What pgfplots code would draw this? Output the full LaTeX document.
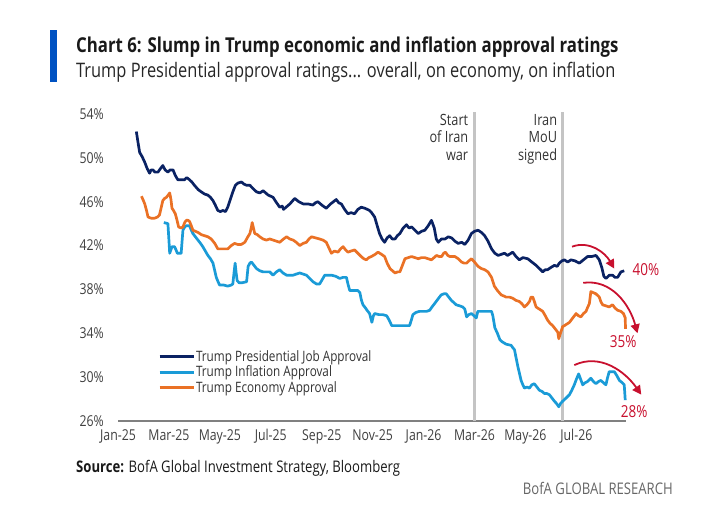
\documentclass[border=0pt]{standalone}
\usepackage{fontspec}
\setmainfont[FakeStretch=0.82]{Open Sans}
\usepackage{pgfplots}
\pgfplotsset{compat=1.18}
\usetikzlibrary{arrows.meta}
\definecolor{navy}{HTML}{0A2263}
\definecolor{lblue}{HTML}{1A9BD7}
\definecolor{orng}{HTML}{EA7125}
\definecolor{bofared}{HTML}{C8102E}
\definecolor{bofablue}{HTML}{0052C2}
\definecolor{vgray}{HTML}{C4C4C4}
\begin{document}
\begin{tikzpicture}[x=1pt,y=1pt]
\useasboundingbox (0,0) rectangle (701,508);
\fill[bofablue] (50,426) rectangle (57,478);
\node[anchor=base west, inner sep=0, font=\fontsize{20.5}{22}\selectfont\bfseries, text=black!90] at (76,455) {Chart 6: Slump in Trump economic and inflation approval ratings};
\node[anchor=base west, inner sep=0, font=\fontsize{20}{22}\selectfont, text=black!85] at (76,430) {Trump Presidential approval ratings... overall, on economy, on inflation};
\node[anchor=base west, inner sep=0, font=\fontsize{16}{18}\selectfont, text=black!90] at (76,35) {\textbf{Source:} BofA Global Investment Strategy, Bloomberg};
\node[anchor=base east, inner sep=0, font=\fontsize{16}{18}\selectfont, text=black!60] at (673,13) {BofA GLOBAL RESEARCH};
\begin{axis}[
  at={(118pt,87pt)}, anchor=south west,
  width=508pt, height=307pt, scale only axis,
  xmin=0, xmax=19.95, ymin=26, ymax=54,
  clip=false,
  axis x line=bottom, axis y line=left,
  axis line style={-},
  y axis line style={draw=none},
  x axis line style={draw=black!50, line width=2pt},
  major tick length=0pt,
  xtick={0,2,4,6,8,10,12,14,16,18},
  xticklabels={Jan-25,Mar-25,May-25,Jul-25,Sep-25,Nov-25,Jan-26,Mar-26,May-26,Jul-26},
  ytick={26,30,34,38,42,46,50,54},
  yticklabels={26\%,30\%,34\%,38\%,42\%,46\%,50\%,54\%},
  tick label style={font=\fontsize{15}{17}\selectfont, text=black!75, inner sep=0pt},
  xticklabel style={yshift=-8pt},
  yticklabel style={xshift=-14pt},
  legend style={at={(0.079,0.233)}, anchor=north west, draw=none, fill=none,
    font=\fontsize{14.3}{16}\selectfont, text=black!80, row sep=1pt, inner sep=0pt,
    nodes={inner sep=1pt}},
  legend cell align=left,
  legend image code/.code={\draw[#1, line width=2.7pt] (0pt,0pt) -- (34pt,0pt);},
]
\addplot[vgray, line width=3pt, forget plot] coordinates {(14.0,26)(14.0,54.2)};
\addplot[vgray, line width=3pt, forget plot] coordinates {(17.46,26)(17.46,54.2)};

\addplot[navy, line width=2.7pt, line join=round] coordinates {
(0.72,52.4)(0.78,51.5)(0.85,50.5)(0.95,50.1)(1.05,49.6)(1.15,49.0)(1.24,48.6)(1.3,48.9)(1.37,48.9)(1.45,48.7)(1.57,48.7)(1.66,49.0)(1.76,49.3)(1.85,48.9)(1.96,48.7)(2.05,48.9)(2.16,48.9)(2.25,48.4)(2.35,48.0)(2.5,48.0)(2.61,48.0)(2.7,48.2)(2.81,48.0)(2.9,47.8)(3.0,47.5)(3.15,47.1)(3.27,46.9)(3.4,46.7)(3.53,46.6)(3.63,46.4)(3.73,46.1)(3.82,45.7)(3.92,45.2)(4.02,45.1)(4.12,45.2)(4.22,45.1)(4.31,45.5)(4.41,46.2)(4.51,46.9)(4.61,47.5)(4.71,47.7)(4.85,47.8)(4.95,47.6)(5.05,47.5)(5.18,47.5)(5.3,47.2)(5.44,46.9)(5.57,46.8)(5.7,47.0)(5.8,46.8)(5.9,46.6)(6.0,46.5)(6.09,46.4)(6.2,46.0)(6.35,45.5)(6.45,45.6)(6.5,45.3)(6.6,45.5)(6.75,45.8)(6.94,46.3)(7.1,46.0)(7.27,45.8)(7.45,45.8)(7.66,45.7)(7.75,45.9)(7.85,46.0)(8.0,45.7)(8.18,45.4)(8.35,45.8)(8.57,46.2)(8.67,45.9)(8.77,45.8)(8.9,45.3)(9.03,44.9)(9.15,45.0)(9.29,44.9)(9.42,45.3)(9.55,45.5)(9.7,45.4)(9.88,45.2)(9.96,45.0)(10.08,44.6)(10.18,43.8)(10.27,43.1)(10.37,42.6)(10.47,42.3)(10.57,42.7)(10.67,42.9)(10.77,42.6)(10.88,42.6)(10.97,42.9)(11.07,43.1)(11.2,43.6)(11.33,43.9)(11.43,43.6)(11.53,43.7)(11.66,43.4)(11.79,43.1)(11.92,43.3)(12.05,43.4)(12.18,43.8)(12.31,44.3)(12.42,43.6)(12.5,42.6)(12.58,42.3)(12.7,42.6)(12.84,42.6)(12.97,42.8)(13.1,42.7)(13.23,42.4)(13.36,42.2)(13.5,42.3)(13.62,42.1)(13.75,42.5)(13.88,43.1)(14.0,43.3)(14.14,43.4)(14.27,43.2)(14.4,42.9)(14.53,42.4)(14.67,41.7)(14.8,41.3)(14.93,41.1)(15.05,41.2)(15.18,41.3)(15.3,41.1)(15.5,41.4)(15.63,41.0)(15.76,40.7)(15.9,40.9)(16.09,40.8)(16.25,40.5)(16.42,40.2)(16.55,39.9)(16.68,39.6)(16.78,39.8)(16.87,39.8)(17.0,40.0)(17.14,40.2)(17.25,40.1)(17.33,40.4)(17.43,40.6)(17.53,40.7)(17.66,40.5)(17.79,40.7)(17.95,40.6)(18.12,40.4)(18.28,40.7)(18.44,41.0)(18.6,41.0)(18.77,41.1)(18.9,40.7)(19.0,40.0)(19.08,39.2)(19.16,39.0)(19.3,39.3)(19.42,39.3)(19.52,39.1)(19.62,39.1)(19.75,39.6)(19.88,39.7)
};
\addlegendentry{Trump Presidential Job Approval}

\addplot[lblue, line width=2.7pt, line join=round] coordinates {
(1.8,44.1)(1.96,44.0)(2.0,42.5)(2.03,41.3)(2.12,41.9)(2.22,41.9)(2.28,41.6)(2.33,41.3)(2.48,41.3)(2.52,42.5)(2.55,43.4)(2.62,43.7)(2.68,43.8)(2.81,43.8)(2.88,43.4)(2.94,43.1)(3.04,42.8)(3.14,42.5)(3.24,42.2)(3.33,41.9)(3.43,41.5)(3.53,41.1)(3.63,40.8)(3.73,40.4)(3.8,39.7)(3.86,39.1)(3.93,38.7)(3.99,38.4)(4.15,38.4)(4.31,38.3)(4.45,38.4)(4.51,38.5)(4.56,39.6)(4.6,40.4)(4.64,39.5)(4.68,38.8)(4.76,38.6)(4.85,38.6)(5.05,38.7)(5.11,40.1)(5.18,40.4)(5.24,40.5)(5.34,40.2)(5.44,39.9)(5.57,39.7)(5.7,39.6)(5.83,39.6)(5.96,39.6)(6.09,39.3)(6.22,39.6)(6.35,39.8)(6.48,39.5)(6.62,39.3)(6.75,39.3)(6.88,39.3)(7.0,39.4)(7.14,39.5)(7.27,39.4)(7.4,39.3)(7.53,39.0)(7.66,38.7)(7.79,38.5)(7.92,38.5)(8.02,38.9)(8.12,39.3)(8.25,39.3)(8.38,39.3)(8.55,39.2)(8.71,39.0)(8.84,39.1)(8.97,39.1)(9.03,38.5)(9.1,37.9)(9.25,37.9)(9.42,37.9)(9.5,37.7)(9.55,37.1)(9.62,36.6)(9.69,36.4)(9.78,36.1)(9.88,35.8)(9.97,35.0)(10.03,35.6)(10.08,35.8)(10.25,35.7)(10.4,35.7)(10.55,35.6)(10.65,35.2)(10.75,34.7)(10.9,34.7)(11.06,34.7)(11.25,34.7)(11.45,34.7)(11.52,35.2)(11.58,35.7)(11.7,35.9)(11.84,36.0)(12.0,36.0)(12.12,36.0)(12.24,36.1)(12.33,36.4)(12.43,36.7)(12.56,37.1)(12.69,37.5)(12.8,37.6)(12.89,37.6)(12.99,37.3)(13.09,37.0)(13.19,36.8)(13.28,36.6)(13.42,36.5)(13.54,36.4)(13.62,36.2)(13.69,35.5)(13.78,35.7)(13.88,35.8)(13.98,35.6)(14.07,35.4)(14.13,36.0)(14.3,36.0)(14.5,36.0)(14.67,36.0)(14.72,35.6)(14.8,34.5)(14.9,34.0)(15.0,33.4)(15.1,33.2)(15.25,33.0)(15.44,32.9)(15.5,32.7)(15.57,32.5)(15.63,31.8)(15.7,31.0)(15.77,30.3)(15.83,29.7)(15.9,29.3)(15.96,29.0)(16.06,29.1)(16.16,29.0)(16.25,29.3)(16.35,29.4)(16.45,29.1)(16.55,28.8)(16.65,28.7)(16.75,28.5)(16.85,28.5)(16.94,28.4)(17.04,28.1)(17.14,27.8)(17.22,27.6)(17.31,27.3)(17.38,27.6)(17.46,27.8)(17.6,28.1)(17.73,28.4)(17.82,28.8)(17.92,29.3)(18.0,29.8)(18.09,30.3)(18.17,29.8)(18.25,29.3)(18.35,29.5)(18.44,29.6)(18.57,29.9)(18.67,29.6)(18.77,29.4)(18.87,29.6)(18.96,29.7)(19.06,29.5)(19.16,29.3)(19.22,29.9)(19.29,30.5)(19.4,30.5)(19.49,30.5)(19.6,30.1)(19.69,29.7)(19.8,29.5)(19.88,29.3)(19.92,27.9)
};
\addlegendentry{Trump Inflation Approval}

\addplot[orng, line width=2.7pt, line join=round] coordinates {
(0.92,46.5)(0.98,46.2)(1.05,45.8)(1.12,45.2)(1.18,44.6)(1.3,44.5)(1.44,44.5)(1.55,44.6)(1.63,44.8)(1.7,45.5)(1.76,46.1)(1.83,46.3)(1.9,46.4)(1.97,46.6)(2.03,46.8)(2.08,46.2)(2.12,45.4)(2.18,45.2)(2.25,44.9)(2.32,44.3)(2.38,43.7)(2.47,43.6)(2.55,43.7)(2.62,44.1)(2.68,44.3)(2.75,44.3)(2.81,44.2)(2.88,43.8)(2.94,43.4)(3.04,43.3)(3.14,43.2)(3.27,43.0)(3.4,42.9)(3.53,42.8)(3.66,42.6)(3.8,42.2)(3.92,41.7)(4.1,41.7)(4.31,41.7)(4.45,42.0)(4.58,42.2)(4.7,42.1)(4.84,42.1)(4.98,42.3)(5.1,42.8)(5.18,43.1)(5.24,43.7)(5.27,44.1)(5.32,43.6)(5.37,43.1)(5.47,43.0)(5.57,42.8)(5.7,42.6)(5.83,42.5)(5.96,42.6)(6.09,42.5)(6.22,42.4)(6.35,42.3)(6.5,42.6)(6.62,42.8)(6.75,42.6)(6.88,42.5)(7.0,42.3)(7.14,42.0)(7.27,42.2)(7.4,42.3)(7.5,42.6)(7.6,42.8)(7.76,42.7)(7.92,42.6)(8.05,42.5)(8.18,42.3)(8.28,41.8)(8.38,41.3)(8.5,41.5)(8.64,41.4)(8.74,41.7)(8.84,41.9)(8.94,41.6)(9.03,41.4)(9.15,41.5)(9.29,41.6)(9.42,41.3)(9.55,41.0)(9.65,40.8)(9.75,40.7)(9.85,40.9)(9.95,41.0)(10.1,41.2)(10.21,41.4)(10.35,41.2)(10.47,41.0)(10.57,40.4)(10.68,39.9)(10.78,39.7)(10.88,39.5)(10.98,39.6)(11.07,39.6)(11.17,40.2)(11.27,40.8)(11.4,40.9)(11.53,41.0)(11.66,40.9)(11.79,40.8)(11.92,40.9)(12.05,40.9)(12.18,40.8)(12.31,40.7)(12.41,40.9)(12.51,41.1)(12.61,41.0)(12.71,41.0)(12.79,41.3)(12.86,41.4)(12.95,41.1)(13.03,41.0)(13.13,41.0)(13.23,41.0)(13.36,40.8)(13.49,40.5)(13.59,40.4)(13.69,40.4)(13.78,40.6)(13.88,40.8)(14.0,40.5)(14.14,40.1)(14.27,39.9)(14.4,39.8)(14.53,39.6)(14.67,39.1)(14.78,38.3)(14.9,37.9)(15.05,37.5)(15.15,37.4)(15.24,37.3)(15.37,37.3)(15.5,37.2)(15.63,37.0)(15.76,36.9)(15.86,36.7)(15.96,36.4)(16.06,36.6)(16.16,36.9)(16.22,37.3)(16.29,37.3)(16.35,36.9)(16.42,36.4)(16.55,36.2)(16.68,36.0)(16.78,35.6)(16.87,35.2)(16.97,34.9)(17.07,34.7)(17.17,34.4)(17.27,34.1)(17.31,33.5)(17.36,33.9)(17.46,34.6)(17.6,34.8)(17.73,35.0)(17.86,35.4)(17.99,35.8)(18.08,35.6)(18.18,35.5)(18.28,35.8)(18.38,36.0)(18.45,36.4)(18.51,36.7)(18.57,37.8)(18.67,37.7)(18.77,37.6)(18.9,37.3)(18.96,36.9)(19.03,36.6)(19.16,36.5)(19.29,36.4)(19.42,36.6)(19.52,36.3)(19.62,36.1)(19.75,36.0)(19.85,35.8)(19.92,35.4)(19.93,34.4)
};
\addlegendentry{Trump Economy Approval}

\node[anchor=north east, align=right, inner sep=0pt, font=\fontsize{15.5}{17.5}\selectfont, text=black!80] at (axis cs:13.76,54.0) {Start\\of Iran\\war};
\node[anchor=north east, align=right, inner sep=0pt, font=\fontsize{15.5}{17.5}\selectfont, text=black!80] at (axis cs:17.25,54.0) {Iran\\MoU\\signed};

\draw[bofared, line width=1.8pt, -{Triangle[length=9pt,width=9pt]}] (axis cs:17.83,41.9) to[out=20,in=120] (axis cs:19.49,39.9);
\draw[bofared, line width=1.8pt, -{Triangle[length=9pt,width=9pt]}] (axis cs:18.27,38.6) to[out=8,in=105] (axis cs:20.4,34.0);
\draw[bofared, line width=1.8pt, -{Triangle[length=9pt,width=9pt]}] (axis cs:17.92,31.1) to[out=25,in=125] (axis cs:20.55,28.4);
\node[anchor=west, inner sep=0pt, font=\fontsize{16.5}{18}\selectfont, text=bofared] at (axis cs:20.2,39.85) {40\%};
\node[inner sep=0pt, font=\fontsize{16.5}{18}\selectfont, text=bofared] at (axis cs:19.84,33.25) {35\%};
\node[inner sep=0pt, font=\fontsize{16.5}{18}\selectfont, text=bofared] at (axis cs:20.27,26.9) {28\%};
\end{axis}
\end{tikzpicture}
\end{document}
